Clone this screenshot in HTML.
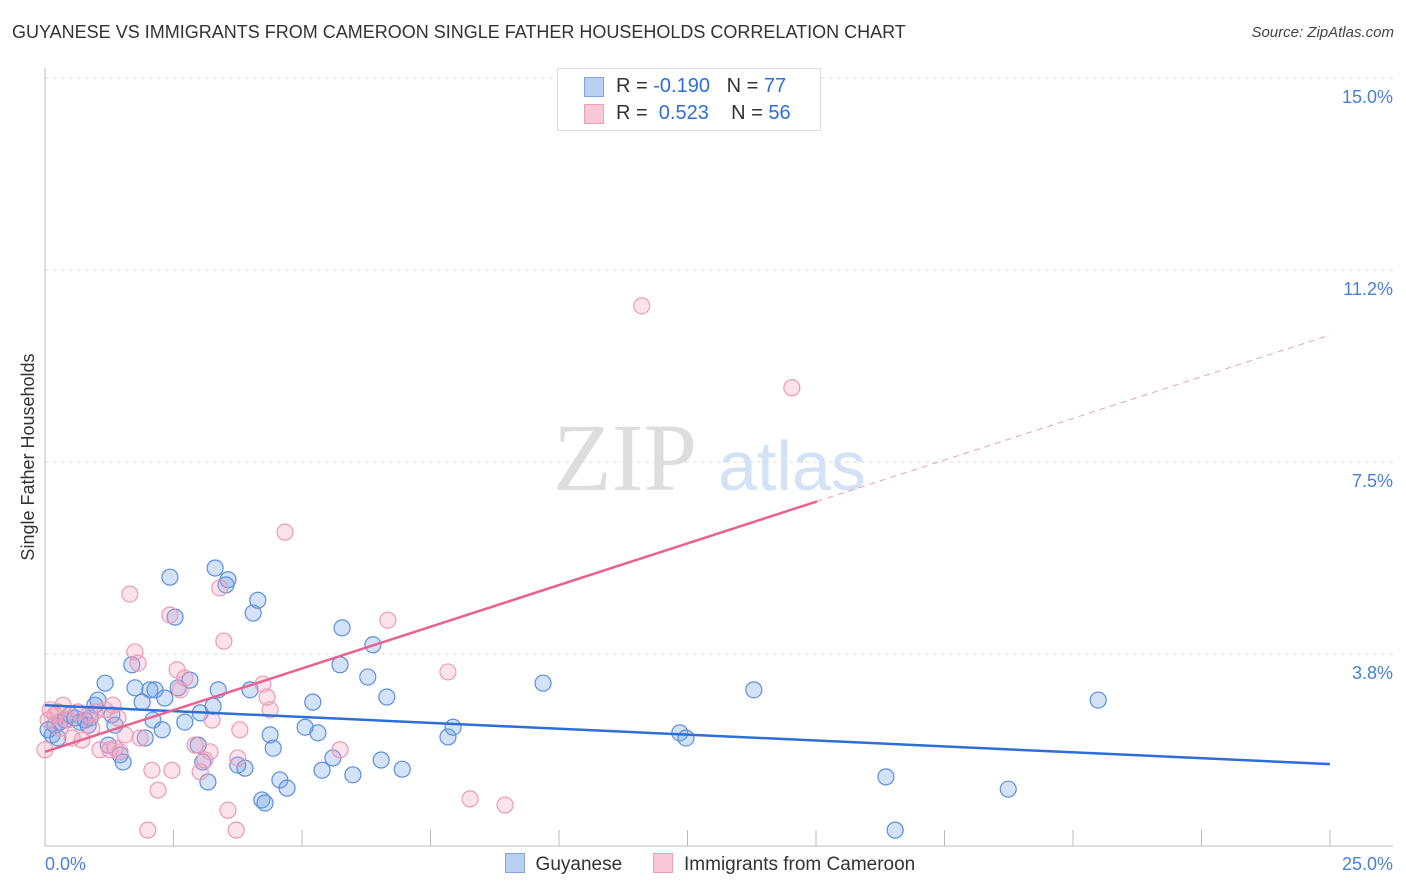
<!DOCTYPE html>
<html><head><meta charset="utf-8"><style>
body{margin:0;background:#fff;font-family:"Liberation Sans",sans-serif;}
#wrap{position:relative;width:1406px;height:892px;overflow:hidden;}
.t{position:absolute;white-space:nowrap;}
</style></head><body>
<div id="wrap">
<div class="t" style="left:12px;top:22px;font-size:18px;color:#333;">GUYANESE VS IMMIGRANTS FROM CAMEROON SINGLE FATHER HOUSEHOLDS CORRELATION CHART</div>
<div class="t" style="right:12px;top:24px;font-size:15px;color:#444;font-style:italic;">Source: ZipAtlas.com</div>
<svg id="svg" width="1406" height="892" style="position:absolute;left:0;top:0"></svg>
</div>
<script>
const yTicks=[15.0,11.25,7.5,3.75];
const yTickLabels=["15.0%","11.2%","7.5%","3.8%"];
const xTickLabels=["0.0%","25.0%"];
const blueX=[0.14,0.19,0.29,0.39,0.49,0.58,0.68,0.78,0.88,0.97,1.03,1.17,1.23,1.30,1.36,1.46,1.52,1.69,1.75,1.89,1.95,2.04,2.10,2.14,2.28,2.33,2.43,2.53,2.59,2.72,2.82,2.98,3.02,3.07,3.17,3.27,3.31,3.37,3.52,3.56,3.75,3.89,3.99,4.05,4.14,4.22,4.28,4.38,4.44,4.57,4.71,5.06,5.21,5.31,5.39,5.60,5.74,5.78,5.99,6.28,6.38,6.54,6.65,6.95,7.84,7.94,9.69,12.35,12.47,13.79,16.36,16.54,18.74,20.49,0.06,0.25,0.84];
const blueY=[2.17,2.36,2.42,2.46,2.56,2.50,2.42,2.46,2.50,2.75,2.85,3.18,1.97,2.56,2.36,1.78,1.64,3.54,3.09,2.81,2.11,3.05,2.46,3.05,2.27,2.89,5.25,4.47,3.09,2.42,3.24,1.97,2.60,1.64,1.25,2.73,5.43,3.05,5.10,5.20,1.58,1.52,3.05,4.55,4.80,0.90,0.84,2.17,1.91,1.29,1.13,2.32,2.81,2.21,1.48,1.72,3.54,4.26,1.39,3.30,3.93,1.68,2.91,1.50,2.13,2.32,3.18,2.21,2.11,3.05,1.35,0.31,1.11,2.85,2.27,2.11,2.36];
const pinkX=[0.06,0.10,0.19,0.29,0.35,0.45,0.53,0.64,0.72,0.84,0.91,1.07,1.17,1.26,1.32,1.42,1.46,1.56,1.65,1.75,1.81,1.85,2.00,2.08,2.20,2.43,2.47,2.57,2.72,2.92,3.02,3.11,3.21,3.25,3.40,3.48,3.56,3.72,3.75,3.79,4.24,4.32,4.38,4.67,5.74,6.67,7.84,8.27,8.95,11.61,14.53,0.00,0.25,0.97,1.36,2.63];
const pinkY=[2.46,2.66,2.56,2.30,2.75,2.46,2.11,2.62,2.07,2.56,2.30,1.88,2.66,1.88,2.75,2.50,1.84,2.17,4.92,3.79,3.57,2.11,0.31,1.48,1.09,4.51,1.48,3.44,3.28,1.97,1.45,1.68,1.84,2.46,5.04,4.00,0.70,0.31,1.72,2.27,3.16,2.91,2.66,6.13,1.88,4.41,3.40,0.92,0.80,10.55,8.95,1.88,2.62,2.62,1.91,3.05];
const blueLine=[2.75,1.60];
const pinkLine=[1.84,9.98];
const pinkSolidEnd=15.02;

const NS="http://www.w3.org/2000/svg";
const svg=document.getElementById('svg');
const X0=45,X1=1330,Y0=846,Y15=78;
const sx=v=>X0+(X1-X0)*v/25;
const sy=v=>Y0-(Y0-Y15)*v/15;
function mk(tag,attrs){const e=document.createElementNS(NS,tag);for(const k in attrs)e.setAttribute(k,attrs[k]);svg.appendChild(e);return e;}

// gridlines and y labels
yTicks.forEach((v,i)=>{
  const g=mk('line',{x1:X0,x2:1393,y1:sy(v),y2:sy(v),stroke:'#ddd','stroke-dasharray':'4,4'});
  
  
  const t=mk('text',{x:1393,y:sy(v)+25,'text-anchor':'end','font-size':18,fill:'#4a7fd4','font-family':'Liberation Sans'});
  t.textContent=yTickLabels[i];
  
  
});
// axes
let a=mk('line',{x1:X0,x2:X0,y1:68,y2:Y0,stroke:'#bbb'});


a=mk('line',{x1:X0,x2:1393,y1:Y0,y2:Y0,stroke:'#bbb'});


for(let k=1;k<=10;k++){
  const tk=mk('line',{x1:sx(k*2.5),x2:sx(k*2.5),y1:830,y2:Y0,stroke:'#bbb'});
  
  
}
let tl=mk('text',{x:45,y:870,'font-size':18,fill:'#4a7fd4','font-family':'Liberation Sans'});tl.textContent=xTickLabels[0];


tl=mk('text',{x:1393,y:870,'text-anchor':'end','font-size':18,fill:'#4a7fd4','font-family':'Liberation Sans'});tl.textContent=xTickLabels[1];


// y title
tl=mk('text',{x:0,y:0,transform:'translate(34,457) rotate(-90)','text-anchor':'middle','font-size':18,fill:'#333','font-family':'Liberation Sans'});tl.textContent='Single Father Households';


// watermark
tl=mk('text',{x:553,y:490,'font-size':96,fill:'#ddd','font-family':'Liberation Serif'});tl.textContent='ZIP';


tl=mk('text',{x:718,y:490,'font-size':70,fill:'#d4e2f5','font-family':'Liberation Sans'});tl.textContent='atlas';


// points
blueX.forEach((v,i)=>{
  const c=mk('circle',{cx:sx(v),cy:sy(blueY[i]),r:8,fill:'rgba(110,160,230,0.3)',stroke:'#5b8fdc','stroke-width':1.2});
  
  
});
pinkX.forEach((v,i)=>{
  const c=mk('circle',{cx:sx(v),cy:sy(pinkY[i]),r:8,fill:'rgba(245,160,190,0.3)',stroke:'#ec9ab6','stroke-width':1.2});
  
  
});
// trend lines
const pAt=x=>pinkLine[0]+(pinkLine[1]-pinkLine[0])*x/25;
let l=mk('line',{x1:sx(0),y1:sy(blueLine[0]),x2:sx(25),y2:sy(blueLine[1]),stroke:'#2d6fd6','stroke-width':2.5});


l=mk('line',{x1:sx(0),y1:sy(pAt(0)),x2:sx(pinkSolidEnd),y2:sy(pAt(pinkSolidEnd)),stroke:'#e8628f','stroke-width':2.5});


l=mk('line',{x1:sx(pinkSolidEnd),y1:sy(pAt(pinkSolidEnd)),x2:sx(25),y2:sy(pAt(25)),stroke:'#e8a0b8','stroke-width':1,'stroke-dasharray':'6,5'});


</script>
<div class="t" style="left:557px;top:68px;width:262px;height:61px;border:1px solid #ddd;background:#fff;font-size:20px;">
 <div style="position:absolute;left:26px;top:8px;width:18px;height:18px;background:#b9d0f2;border:1px solid #7fa6e0;"></div>
 <div class="t" style="left:58px;top:6px;color:#333;">R = <span style="color:#2d6fd6">-0.190</span>&nbsp;&nbsp;&nbsp;N = <span style="color:#2d6fd6">77</span></div>
 <div style="position:absolute;left:26px;top:35px;width:18px;height:18px;background:#f8c8d8;border:1px solid #eea0bb;"></div>
 <div class="t" style="left:58px;top:33px;color:#333;">R = &nbsp;<span style="color:#2d6fd6">0.523</span>&nbsp;&nbsp;&nbsp;&nbsp;N = <span style="color:#2d6fd6">56</span></div>
</div>
<div class="t" style="left:505px;top:853px;font-size:19px;color:#333;">
 <span style="display:inline-block;width:18px;height:18px;background:#b9d0f2;border:1px solid #7fa6e0;vertical-align:-3px;"></span>&nbsp; Guyanese
 <span style="display:inline-block;width:18px;height:18px;background:#f8c8d8;border:1px solid #eea0bb;vertical-align:-3px;margin-left:26px;"></span>&nbsp; Immigrants from Cameroon
</div>
</body></html>
